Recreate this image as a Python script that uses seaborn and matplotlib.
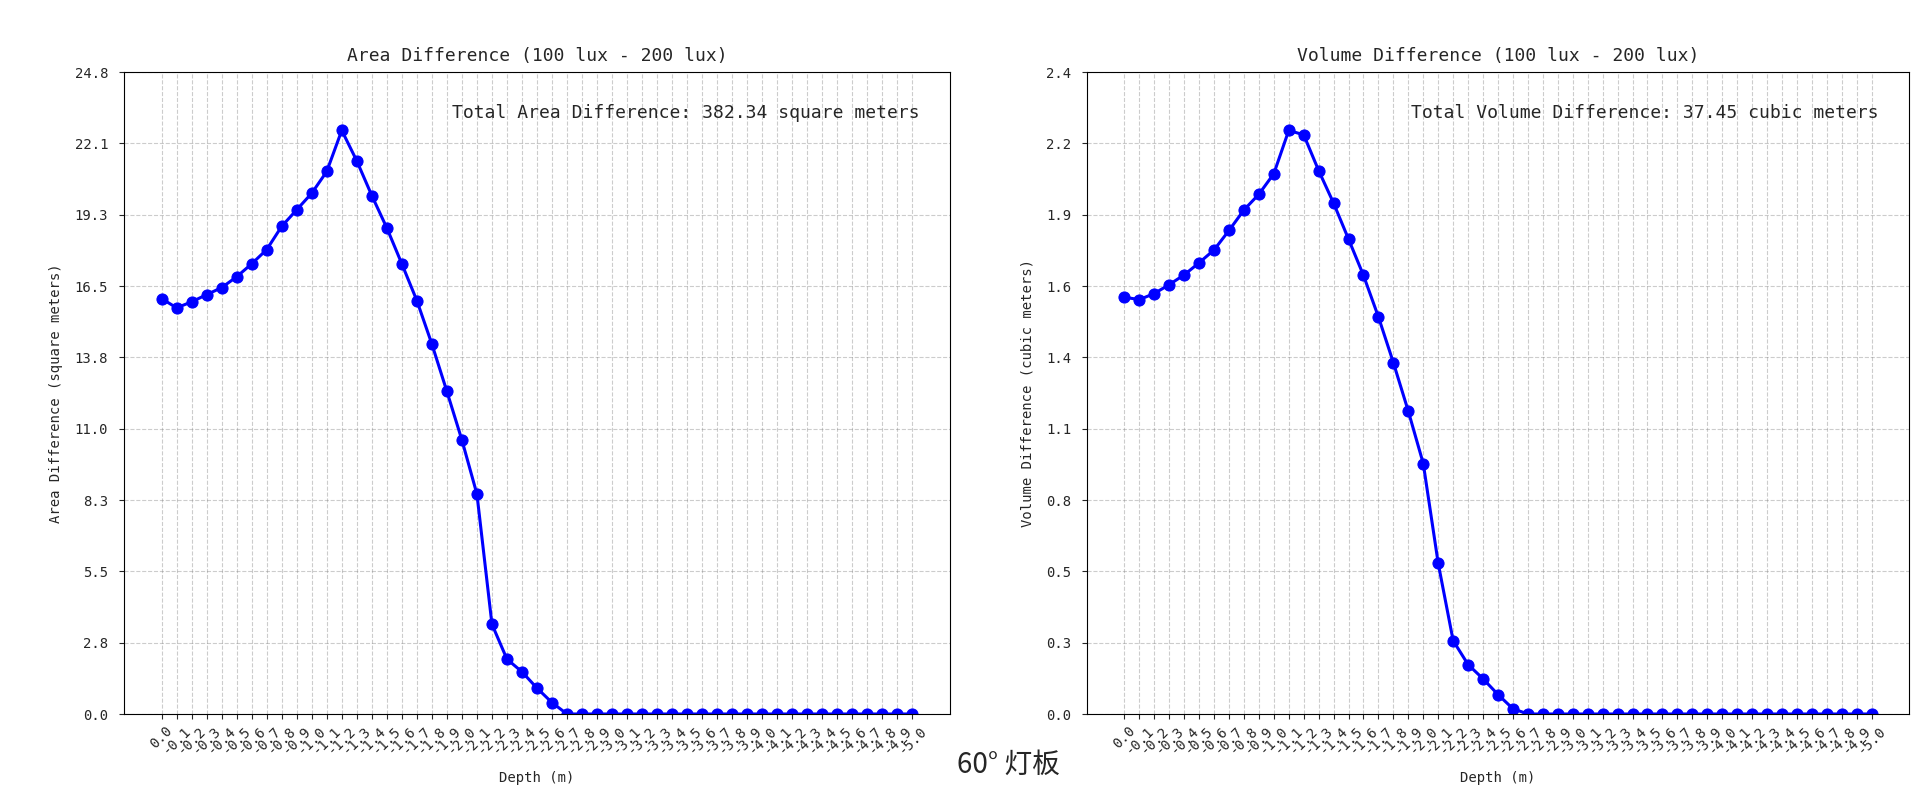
import numpy as np
import matplotlib
matplotlib.use("Agg")
import matplotlib.pyplot as plt
import seaborn as sns

# data
DEPTH = [0.0, -0.1, -0.2, -0.3, -0.4, -0.5, -0.6, -0.7, -0.8, -0.9,
         -1.0, -1.1, -1.2, -1.3, -1.4, -1.5, -1.6, -1.7, -1.8, -1.9,
         -2.0, -2.1, -2.2, -2.3, -2.4, -2.5, -2.6, -2.7, -2.8, -2.9,
         -3.0, -3.1, -3.2, -3.3, -3.4, -3.5, -3.6, -3.7, -3.8, -3.9,
         -4.0, -4.1, -4.2, -4.3, -4.4, -4.5, -4.6, -4.7, -4.8, -4.9, -5.0]

AREA = [16.06, 15.70, 15.93, 16.21, 16.48, 16.90, 17.40, 17.95, 18.85, 19.49,
        20.13, 20.97, 22.56, 21.38, 20.04, 18.79, 17.40, 15.98, 14.30, 12.47,
        10.59, 8.50, 3.47, 2.12, 1.63, 1.00, 0.44, 0.0, 0.0, 0.0,
        0.0, 0.0, 0.0, 0.0, 0.0, 0.0, 0.0, 0.0, 0.0, 0.0,
        0.0, 0.0, 0.0, 0.0, 0.0, 0.0, 0.0, 0.0, 0.0, 0.0, 0.0]

VOLUME = [1.586, 1.577, 1.600, 1.634, 1.671, 1.717, 1.766, 1.840, 1.918, 1.978,
          2.056, 2.221, 2.204, 2.068, 1.944, 1.807, 1.669, 1.511, 1.337, 1.152,
          0.953, 0.573, 0.279, 0.188, 0.134, 0.074, 0.020, 0.0, 0.0, 0.0,
          0.0, 0.0, 0.0, 0.0, 0.0, 0.0, 0.0, 0.0, 0.0, 0.0,
          0.0, 0.0, 0.0, 0.0, 0.0, 0.0, 0.0, 0.0, 0.0, 0.0, 0.0]

TOTAL_AREA = 382.34
TOTAL_VOLUME = 37.45

sns.set_style("ticks")
plt.rcParams["font.family"] = ["DejaVu Sans Mono", "Noto Sans CJK SC"]
plt.rcParams["axes.unicode_minus"] = False

fig = plt.figure(figsize=(19.18, 7.85), dpi=100)
ax1 = fig.add_axes([124 / 1918, 1 - 714 / 785, 826 / 1918, 642 / 785])
ax2 = fig.add_axes([1087 / 1918, 1 - 714 / 785, 822 / 1918, 642 / 785])

panels = [
    (ax1, AREA, "Area Difference (100 lux - 200 lux)", "Area Difference (square meters)",
     f"Total Area Difference: {TOTAL_AREA:.2f} square meters"),
    (ax2, VOLUME, "Volume Difference (100 lux - 200 lux)", "Volume Difference (cubic meters)",
     f"Total Volume Difference: {TOTAL_VOLUME:.2f} cubic meters"),
]

for ax, vals, title, ylabel, note in panels:
    sns.lineplot(x=DEPTH, y=vals, ax=ax, color="blue", marker="o", markersize=8,
                 markeredgecolor="blue", linewidth=2.2)
    ax.invert_xaxis()
    ax.set_xticks(DEPTH)
    ax.set_xticklabels([f"{d:.1f}" for d in DEPTH], rotation=45, fontsize=10)
    top = max(vals) * 1.1
    ax.set_ylim(0, top)
    yt = np.linspace(0, top, 10)
    ax.set_yticks(yt)
    ax.set_yticklabels([f"{v:.1f}" for v in yt], fontsize=10)
    ax.tick_params(axis="y", pad=8)
    ax.grid(True, linestyle="--", color="gray", alpha=0.4)
    ax.set_title(title, fontsize=13, pad=8)
    ax.set_xlabel("Depth (m)", fontsize=10, labelpad=10)
    ax.set_ylabel(ylabel, fontsize=10, labelpad=8)
    ax.text(0.963, 0.95, note, transform=ax.transAxes, ha="right", va="top", fontsize=13)
    for s in ax.spines.values():
        s.set_color("black")

fig.text(1008 / 1918, 0.026, "60° 灯板", ha="center", va="center", fontsize=20,
         family=["Noto Sans CJK SC", "DejaVu Sans"])

plt.savefig("out.png", dpi=100)
